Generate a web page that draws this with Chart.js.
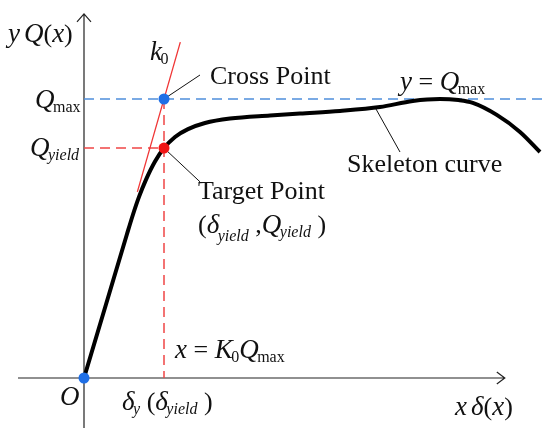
<!DOCTYPE html>
<html>
<head>
<meta charset="utf-8">
<script src="https://cdn.jsdelivr.net/npm/chart.js@4"></script>
<style>
  html, body { margin: 0; padding: 0; background: #fff; }
  #wrap { width: 550px; height: 435px; }
</style>
</head>
<body>
<div id="wrap"><canvas id="chart" width="550" height="435"></canvas></div>
<script>
// skeleton curve: x in units of delta_yield, y in units of Q_max
var curveX = [0, 0.269, 0.5375, 0.6125, 0.6875, 0.775, 0.8875, 1.0, 1.1375, 1.3, 1.5125, 1.825, 2.325, 2.7, 3.2, 3.7, 4.11, 4.45, 4.68, 4.86, 5.16, 5.45, 5.7];
var curveY = [0, 0.258, 0.516, 0.586, 0.649, 0.711, 0.776, 0.824, 0.864, 0.892, 0.914, 0.930, 0.941, 0.948, 0.957, 0.971, 0.993, 1.0, 0.996, 0.986, 0.943, 0.882, 0.81];

var qMax = 1.0;
var qYield = 0.824;
var deltaYield = 1.0;
var k0 = 1.0;                 // slope of the initial tangent
var tangentX = [0.667, 1.204];
var qMaxLineEnd = 5.74;
var xAxisRange = [-0.825, 5.26];
var yAxisRange = [-0.179, 1.305];

// leader lines from the marks to their labels
var crossLeader = [[1.0, 1.0], [1.45, 1.086]];
var targetLeader = [[1.0, 0.824], [1.45, 0.703]];
var skeletonLeader = [[3.65, 0.964], [3.95, 0.81]];

// labels: [x, y (baseline), runs]
var labels = [
    [-0.95, 1.204, [['y', 'i'], [' ', 'sub'], ['Q', 'i'], ['(', 'r'], ['x', 'i'], [')', 'r']]],
    [0.825, 1.14, [['k', 'i'], ['0', 'sub']]],
    [1.575, 1.054, [['Cross Point', 'r']]],
    [-0.6125, 0.968, [['Q', 'i'], ['max', 'sub']]],
    [-0.675, 0.796, [['Q', 'i'], ['yield', 'isub']]],
    [1.425, 0.64, [['Target Point', 'r']]],
    [1.425, 0.52, [['(', 'r'], ['\u03b4', 'i'], ['yield', 'isub', 8], [' ,', 'r'], ['Q', 'i'], ['yield', 'isub'], [' )', 'r']]],
    [1.1375, 0.072, [['x', 'i'], [' = ', 'r'], ['K', 'i'], ['0', 'sub'], ['Q', 'i'], ['max', 'sub']]],
    [-0.3, -0.097, [['O', 'i']]],
    [0.475, -0.115, [['\u03b4', 'i'], ['y', 'isub'], [' (', 'r'], ['\u03b4', 'i'], ['yield', 'isub'], [' )', 'r']]],
    [4.6375, -0.133, [['x', 'i'], [' ', 'sub'], ['\u03b4', 'i'], ['(', 'r'], ['x', 'i'], [')', 'r']]],
    [3.95, 1.032, [['y', 'i'], [' = ', 'r'], ['Q', 'i'], ['max', 'sub']]],
    [3.2875, 0.738, [['Skeleton curve', 'r']]]
];

var fonts = {
    r: { size: 26, style: '', dy: 0, dx: 0 },
    i: { size: 27, style: 'italic ', dy: 0, dx: 0 },
    sub: { size: 16, style: '', dy: 4, dx: -1.5 },
    isub: { size: 16, style: 'italic ', dy: 4, dx: -1.5 }
};

function pts(xs, ys) {
    return xs.map(function (x, i) { return { x: x, y: ys[i] }; });
}

function leader(seg) {
    return {
        data: seg.map(function (p) { return { x: p[0], y: p[1] }; }),
        showLine: true,
        borderColor: '#111',
        borderWidth: 1,
        pointRadius: 0,
        order: 3
    };
}

function drawRuns(ctx, x, y, runs) {
    runs.forEach(function (run) {
        var f = fonts[run[1]];
        ctx.font = f.style + f.size + 'px "Liberation Serif", "Times New Roman", serif';
        var dy = run.length > 2 ? run[2] : f.dy;
        if (run[0].trim()) x += f.dx;
        ctx.fillText(run[0], x, y + dy);
        x += ctx.measureText(run[0]).width;
    });
}

var sketchPlugin = {
    id: 'sketch',
    beforeDatasetsDraw: function (chart) {
        var ctx = chart.ctx;
        var xs = chart.scales.x, ys = chart.scales.y;
        var x0 = xs.getPixelForValue(0), y0 = ys.getPixelForValue(0);
        var xEnd = xs.getPixelForValue(xAxisRange[1]);
        var yEnd = ys.getPixelForValue(yAxisRange[1]);
        ctx.save();
        ctx.strokeStyle = '#222';
        ctx.lineWidth = 1.2;
        ctx.beginPath();
        ctx.moveTo(xs.getPixelForValue(xAxisRange[0]), y0);
        ctx.lineTo(xEnd, y0);
        ctx.moveTo(x0, ys.getPixelForValue(yAxisRange[0]));
        ctx.lineTo(x0, yEnd);
        // arrow heads
        ctx.moveTo(xEnd - 8, y0 - 6);
        ctx.lineTo(xEnd, y0);
        ctx.lineTo(xEnd - 8, y0 + 6);
        ctx.moveTo(x0 - 7, yEnd + 8);
        ctx.lineTo(x0, yEnd);
        ctx.lineTo(x0 + 7, yEnd + 8);
        ctx.stroke();
        ctx.restore();
    },
    afterDatasetsDraw: function (chart) {
        var ctx = chart.ctx;
        var xs = chart.scales.x, ys = chart.scales.y;
        ctx.save();
        ctx.fillStyle = '#111';
        ctx.textBaseline = 'alphabetic';
        labels.forEach(function (l) {
            drawRuns(ctx, xs.getPixelForValue(l[0]), ys.getPixelForValue(l[1]), l[2]);
        });
        ctx.restore();
    }
};

new Chart(document.getElementById('chart'), {
    type: 'scatter',
    data: {
        datasets: [
            {
                data: [{ x: 0, y: 0 }, { x: deltaYield, y: qMax }],
                pointRadius: 5.5,
                pointBorderWidth: 0,
                backgroundColor: '#1f6fe6',
                borderColor: '#1f6fe6',
                order: 0
            },
            {
                data: [{ x: deltaYield, y: qYield }],
                pointRadius: 5.5,
                pointBorderWidth: 0,
                backgroundColor: '#f01414',
                borderColor: '#f01414',
                order: 0
            },
            {
                data: pts(curveX, curveY),
                showLine: true,
                borderColor: '#000',
                borderWidth: 4,
                pointRadius: 0,
                cubicInterpolationMode: 'monotone',
                order: 1
            },
            {
                data: pts(tangentX, tangentX.map(function (x) { return k0 * x; })),
                showLine: true,
                borderColor: '#f03535',
                borderWidth: 1.3,
                pointRadius: 0,
                order: 2
            },
            {
                data: [{ x: 0, y: qMax }, { x: qMaxLineEnd, y: qMax }],
                showLine: true,
                borderColor: '#4f8fdb',
                borderWidth: 1.5,
                borderDash: [10, 6],
                pointRadius: 0,
                order: 2
            },
            {
                data: [{ x: 0, y: qYield }, { x: deltaYield, y: qYield }],
                showLine: true,
                borderColor: '#f04545',
                borderWidth: 1.5,
                borderDash: [10, 6],
                pointRadius: 0,
                order: 2
            },
            {
                data: [{ x: deltaYield, y: qMax }, { x: deltaYield, y: 0 }],
                showLine: true,
                borderColor: '#f04545',
                borderWidth: 1.5,
                borderDash: [10, 6],
                pointRadius: 0,
                order: 2
            },
            leader(crossLeader),
            leader(targetLeader),
            leader(skeletonLeader)
        ]
    },
    options: {
        responsive: false,
        animation: false,
        events: [],
        layout: { padding: 0, autoPadding: false },
        plugins: {
            legend: { display: false },
            tooltip: { enabled: false }
        },
        scales: {
            x: { type: 'linear', display: false, min: -1.05, max: 5.825 },
            y: { type: 'linear', display: false, min: -0.2043, max: 1.3548 }
        }
    },
    plugins: [sketchPlugin]
});
</script>
</body>
</html>
